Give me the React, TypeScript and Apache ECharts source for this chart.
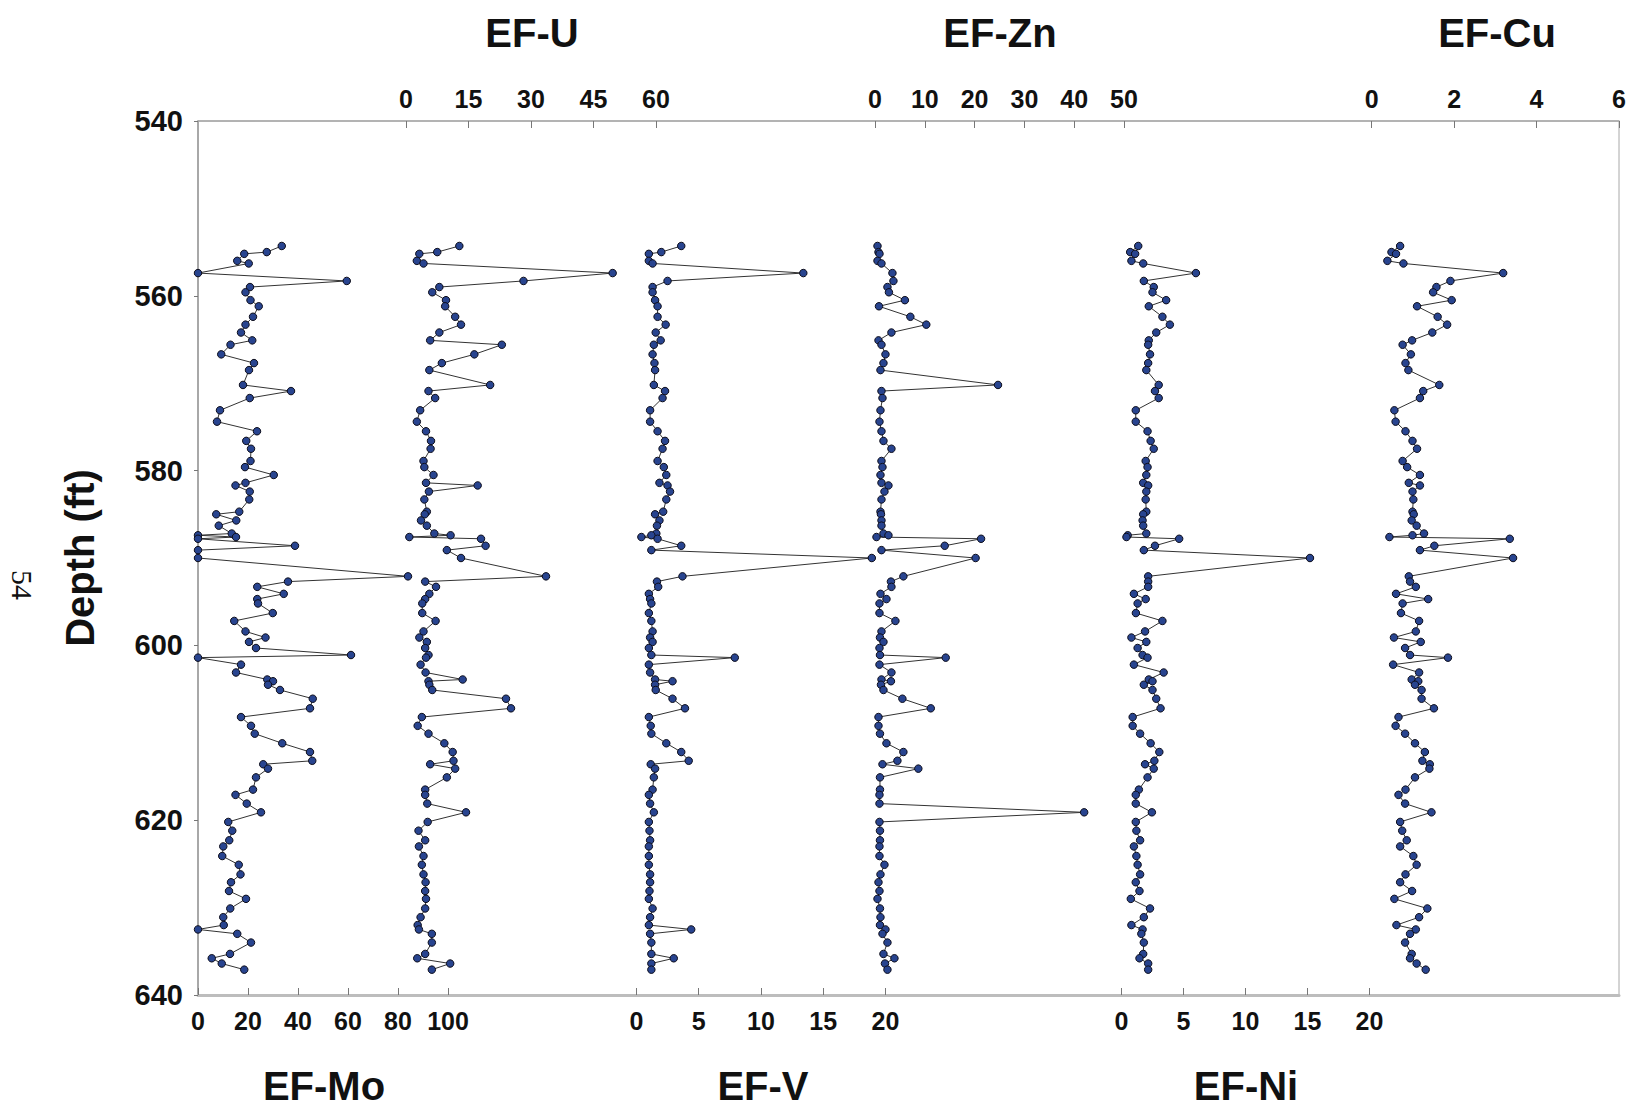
import React, { useEffect, useRef } from "react";
import * as echarts from "echarts";

// Sample depths (ft), shared by all six profiles
const depths = [
  554.3, 555.0, 555.2, 556.0, 556.3, 557.4, 558.3, 559.0, 559.6, 560.5,
  561.2, 562.4, 563.3, 564.2, 565.1, 565.6, 566.7, 567.7, 568.5, 570.2,
  570.9, 571.7, 573.1, 574.4, 575.5, 576.6, 577.5, 578.9, 579.6, 580.5,
  581.4, 581.7, 582.4, 583.3, 584.7, 585.0, 585.7, 586.3, 587.2, 587.4,
  587.6, 587.8, 588.6, 589.1, 590.0, 592.1, 592.7, 593.3, 594.1, 594.7,
  595.2, 596.3, 597.2, 598.4, 599.1, 599.6, 600.3, 601.1, 601.4, 602.2,
  603.1, 603.9, 604.1, 604.5, 605.1, 606.1, 607.2, 608.2, 609.2, 610.1,
  611.2, 612.2, 613.2, 613.6, 614.1, 615.1, 616.5, 617.1, 618.1, 619.1,
  620.2, 621.2, 622.3, 623.0, 624.1, 625.1, 626.2, 627.1, 628.1, 629.0,
  630.1, 631.1, 632.0, 632.5, 633.0, 634.0, 635.3, 635.8, 636.4, 637.1,
];

const efMo = [
  33.5, 27.5, 18.5, 15.7, 20.3, 0, 59.5, 20.8, 19, 21,
  24.3, 22, 19, 17.2, 21.7, 13, 9.3, 22.4, 20.4, 18,
  37.2, 20.7, 8.8, 7.6, 23.6, 19.3, 21.2, 21, 18.8, 30.3,
  19, 15, 20.7, 20.5, 16.5, 7.3, 15.3, 8.3, 13.5, 0,
  15.2, 0, 38.8, 0, 0, 84, 36, 23.7, 34.3, 23.7,
  24, 29.9, 14.5, 19, 27, 20.4, 23.2, 61.2, 0, 17.2,
  15.2, 27.7, 30, 28, 32.8, 45.9, 44.8, 17.2, 21.2, 22.7,
  33.7, 44.8, 45.7, 26.1, 28, 23.2, 22, 15, 19.5, 25.2,
  12.1, 13.7, 12.5, 10.1, 9.7, 16.3, 17, 13.2, 12.4, 19.2,
  12.9, 10.1, 10.3, 0, 15.7, 21.2, 12.8, 5.5, 9.5, 18.5,
];

const efU = [
  12.8, 7.5, 3.2, 2.6, 4.2, 49.6, 28.2, 8, 6.3, 9.6,
  9.4, 11.8, 13.2, 8, 5.8, 23, 16.4, 8.6, 5.6, 20.2,
  5.4, 7, 3.4, 2.6, 4.8, 6, 5.9, 4.2, 4.4, 6.6,
  4.8, 17.2, 5.5, 4.4, 5, 4.5, 3.6, 5, 6.8, 10.7,
  0.8, 18, 19.1, 9.8, 13.2, 33.6, 4.6, 7.2, 5.6, 4.6,
  3.9, 3.9, 7.1, 4.2, 3.2, 5.0, 4.6, 5.4, 4.8, 3.5,
  4.7, 13.6, 5.4, 5.6, 6.3, 24, 25.2, 3.8, 2.8, 5.4,
  9.2, 11.2, 11.4, 5.8, 11.8, 9.8, 4.6, 4.6, 5.1, 14.4,
  5.2, 3.0, 4.6, 3.1, 4.2, 3.8, 4.2, 4.7, 4.6, 4.8,
  4.6, 3.5, 2.8, 3.1, 6.2, 6.2, 4.6, 2.7, 10.6, 6.2,
];

const efV = [
  3.6, 2.0, 1.0, 1.0, 1.3, 13.4, 2.5, 1.3, 1.3, 1.5,
  1.7, 1.7, 2.35, 1.55, 1.95, 1.4, 1.3, 1.45, 1.5, 1.4,
  2.3, 2.1, 1.1, 1.1, 1.7, 2.3, 2.1, 1.7, 2.2, 2.4,
  1.85, 2.5, 2.7, 2.4, 2.15, 1.5, 1.85, 1.65, 1.6, 1.2,
  0.4, 1.7, 3.6, 1.2, 18.9, 3.7, 1.65, 1.75, 1.0, 1.1,
  1.2, 1.0, 1.2, 1.3, 1.1, 1.3, 1.0, 1.2, 7.9, 1.0,
  1.1, 1.5, 2.9, 1.5, 1.55, 2.9, 3.9, 1.0, 1.15, 1.2,
  2.4, 3.6, 4.2, 1.15, 1.5, 1.4, 1.3, 1.0, 1.1, 1.4,
  1.0, 1.05, 1.1, 1.0, 1.0, 1.0, 1.1, 1.1, 1.05, 1.0,
  1.3, 1.1, 1.0, 4.4, 1.1, 1.2, 1.2, 3.0, 1.2, 1.2,
];

const efZn = [
  0.5, 0.7, 0.9, 0.5, 1.3, 3.5, 3.7, 2.5, 2.8, 6.0,
  0.8, 7.1, 10.3, 3.3, 0.7, 1.3, 2.1, 1.7, 1.1, 24.7,
  1.3, 1.5, 1.1, 0.9, 1.3, 1.7, 3.3, 1.3, 1.5, 1.1,
  1.3, 2.7, 1.9, 1.3, 1.1, 1.2, 1.3, 1.3, 1.7, 2.7,
  0.3, 21.3, 14, 1.3, 20.2, 5.7, 3.2, 3.3, 1.1, 2.3,
  0.9, 0.9, 4.1, 1.3, 1.0, 1.7, 0.9, 1.0, 14.2, 0.9,
  3.3, 1.3, 3.2, 1.2, 1.7, 5.5, 11.2, 0.7, 0.7, 1.0,
  2.3, 5.7, 4.5, 1.5, 8.7, 1.0, 1.0, 0.9, 0.9, 42,
  0.9, 1.0, 1.0, 0.9, 0.9, 1.9, 1.1, 0.7, 0.9, 0.5,
  1.0, 1.1, 1.0, 2.1, 1.5, 2.5, 1.7, 3.9, 2.0, 2.5,
];

const efNi = [
  1.35, 0.7, 1.1, 0.8, 1.75, 6.0, 1.8, 2.6, 2.5, 3.6,
  2.2, 3.3, 3.9, 2.8, 2.2, 2.15, 2.3, 2.15, 2.0, 3.0,
  2.7, 3.0, 1.15, 1.15, 2.1, 2.35, 2.6, 1.95, 2.1, 2.0,
  1.75, 2.15, 2.0, 1.95, 2.0, 1.75, 1.7, 1.75, 2.0, 0.5,
  0.4, 4.65, 2.7, 1.8, 15.2, 2.15, 2.15, 2.15, 1.0, 1.95,
  1.3, 1.16, 3.3, 1.9, 0.8, 2.0, 1.3, 1.7, 2.1, 1.0,
  3.4, 2.2, 2.5, 1.8, 2.5, 2.8, 3.15, 0.9, 0.9, 1.5,
  2.35, 3.05, 2.65, 1.9, 2.6, 2.1, 1.4, 1.15, 1.15, 2.45,
  1.15, 1.2, 1.5, 1.0, 1.2, 1.3, 1.5, 1.15, 1.45, 0.75,
  2.3, 1.8, 0.8, 1.7, 1.6, 1.8, 1.75, 1.45, 2.15, 2.15,
];

const efCu = [
  0.69, 0.48, 0.59, 0.38, 0.77, 3.19, 1.91, 1.57, 1.49, 1.94,
  1.1, 1.6, 1.83, 1.47, 0.98, 0.75, 0.95, 0.82, 0.89, 1.64,
  1.25, 1.17, 0.55, 0.58, 0.82, 0.99, 1.1, 0.75, 0.86, 1.17,
  0.9, 1.17, 0.99, 1.01, 0.99, 1.02, 0.97, 1.09, 1.27, 0.99,
  0.43, 3.35, 1.52, 1.17, 3.43, 0.9, 0.93, 1.07, 0.59, 1.37,
  0.75, 0.71, 1.15, 1.07, 0.54, 1.19, 0.81, 0.93, 1.85, 0.52,
  1.15, 0.97, 1.13, 1.05, 1.21, 1.21, 1.51, 0.65, 0.58, 0.81,
  1.05, 1.29, 1.23, 1.41, 1.4, 1.05, 0.82, 0.65, 0.81, 1.45,
  0.69, 0.74, 0.85, 0.69, 1.01, 1.09, 0.82, 0.69, 0.98, 0.55,
  1.35, 1.15, 0.6, 1.07, 0.93, 0.81, 0.97, 0.93, 1.09, 1.31,
];

// Tick labels of each track
const ticksMo = [0, 20, 40, 60, 80, 100];
const ticksU = [0, 15, 30, 45, 60];
const ticksV = [0, 5, 10, 15, 20];
const ticksZn = [0, 10, 20, 30, 40, 50];
const ticksNi = [0, 5, 10, 15, 20];
const ticksCu = [0, 2, 4, 6];
const depthTicks = [540, 560, 580, 600, 620, 640];

const W = 1633;
const H = 1110;
const PLOT = { left: 198, top: 121, right: 1619, bottom: 995 };

// Layout of each track's own x scale: pixel of 0, pixel of the last tick
const tracks = [
  { name: "EF-Mo", values: efMo, ticks: ticksMo, pos: "bottom", p0: 198, p1: 448, titleX: 324 },
  { name: "EF-U", values: efU, ticks: ticksU, pos: "top", p0: 406, p1: 656, titleX: 532 },
  { name: "EF-V", values: efV, ticks: ticksV, pos: "bottom", p0: 636.4, p1: 885.5, titleX: 763 },
  { name: "EF-Zn", values: efZn, ticks: ticksZn, pos: "top", p0: 875, p1: 1124, titleX: 1000 },
  { name: "EF-Ni", values: efNi, ticks: ticksNi, pos: "bottom", p0: 1121.5, p1: 1369.5, titleX: 1246 },
  { name: "EF-Cu", values: efCu, ticks: ticksCu, pos: "top", p0: 1371.7, p1: 1619, titleX: 1497 },
];

const SANS = '"Liberation Sans", Arial, Helvetica, sans-serif';

export default function App() {
  const ref = useRef<HTMLDivElement>(null);

  useEffect(() => {
    document.body.style.margin = "0";
    if (!ref.current) return;
    const chart = echarts.init(ref.current, null, { renderer: "svg" });

    const xAxes = tracks.map((t, i) => {
      const last = t.ticks[t.ticks.length - 1];
      const scale = (t.p1 - t.p0) / last;
      const min = (PLOT.left - t.p0) / scale;
      const max = (PLOT.right - t.p0) / scale;
      const firstOfSide = i === 0 || i === 1;
      return {
        type: "value",
        position: t.pos,
        min,
        max,
        splitLine: { show: false },
        axisLine: {
          show: firstOfSide,
          onZero: false,
          lineStyle: t.pos === "bottom" ? { color: "#bdbdbd", width: 3 } : { color: "#a8a8a8", width: 1.5 },
        },
        axisTick: {
          show: true,
          inside: true,
          length: 7,
          customValues: t.ticks,
          lineStyle: { color: "#777", width: 1 },
        },
        axisLabel: {
          show: true,
          customValues: t.ticks,
          margin: t.pos === "bottom" ? 13 : 10,
          color: "#111",
          fontFamily: SANS,
          fontWeight: "bold",
          fontSize: 25,
          formatter: (v: number) => String(Math.round(v * 100) / 100),
        },
      };
    });

    const series = tracks.map((t, i) => ({
      type: "line",
      name: t.name,
      xAxisIndex: i,
      yAxisIndex: 0,
      data: depths.map((d, j) => [t.values[j], d]),
      symbol: "circle",
      symbolSize: 7.5,
      showAllSymbol: true,
      clip: false,
      lineStyle: { color: "#333333", width: 1 },
      itemStyle: { color: "#28448f", borderColor: "#0d0d1a", borderWidth: 1 },
      emphasis: { disabled: true },
    }));

    chart.setOption({
      animation: false,
      backgroundColor: "#ffffff",
      grid: {
        left: PLOT.left,
        top: PLOT.top,
        width: PLOT.right - PLOT.left,
        height: PLOT.bottom - PLOT.top,
        show: true,
        borderColor: "#a8a8a8",
        borderWidth: 1,
        containLabel: false,
      },
      xAxis: xAxes,
      yAxis: {
        type: "value",
        inverse: true,
        min: 540,
        max: 640,
        interval: 20,
        name: "Depth (ft)",
        nameLocation: "middle",
        nameRotate: 90,
        nameGap: 98,
        nameTextStyle: { fontFamily: SANS, fontWeight: "bold", fontSize: 40, color: "#111" },
        splitLine: { show: false },
        axisLine: { show: true, lineStyle: { color: "#9a9a9a", width: 1.5 } },
        axisTick: { show: true, inside: false, length: 4, lineStyle: { color: "#777" } },
        axisLabel: {
          margin: 15,
          color: "#111",
          fontFamily: SANS,
          fontWeight: "bold",
          fontSize: 29,
          customValues: depthTicks,
        },
      },
      graphic: [
        ...tracks.map((t) => ({
          type: "text",
          x: t.titleX,
          y: t.pos === "top" ? 33 : 1086,
          style: {
            text: t.name,
            textAlign: "center",
            textVerticalAlign: "middle",
            fill: "#111",
            font: `bold 40px ${SANS}`,
          },
        })),
        {
          type: "text",
          x: 22,
          y: 585,
          rotation: -Math.PI / 2,
          style: {
            text: "54",
            textAlign: "center",
            textVerticalAlign: "middle",
            fill: "#111",
            font: '30px "Liberation Serif", "DejaVu Serif", serif',
          },
        },
      ],
      series,
    });

    return () => chart.dispose();
  }, []);

  return <div ref={ref} style={{ width: W, height: H }} />;
}
